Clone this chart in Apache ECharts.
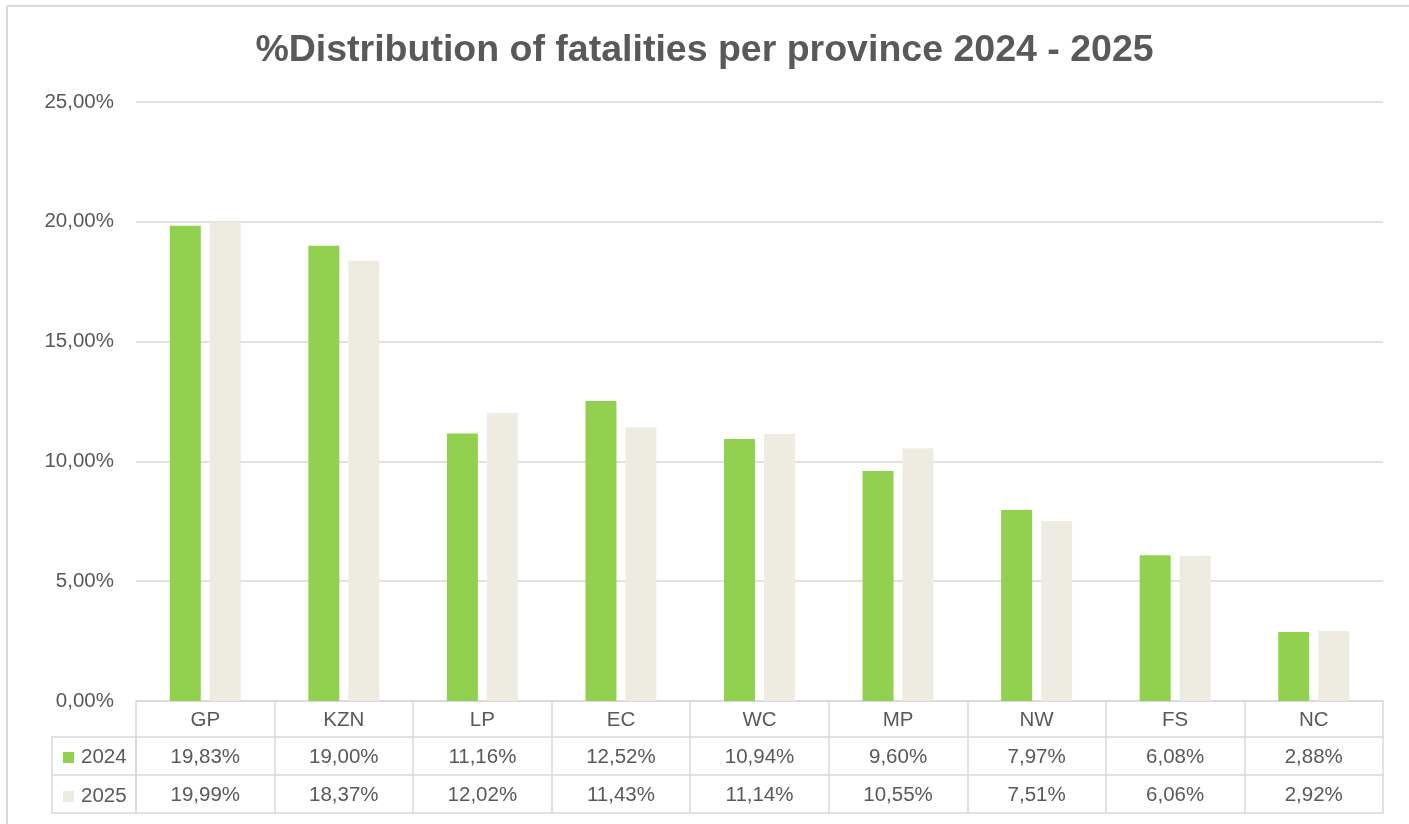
<!DOCTYPE html>
<html>
<head>
<meta charset="utf-8">
<script src="https://cdn.jsdelivr.net/npm/echarts@6/dist/echarts.min.js"></script>
<style>
  html, body { margin: 0; padding: 0; background: #ffffff; }
  #chart { width: 1409px; height: 824px; }
</style>
</head>
<body>
<div id="chart"></div>
<script>
// Provinces and share of fatalities (%) per year
const provinces = ['GP', 'KZN', 'LP', 'EC', 'WC', 'MP', 'NW', 'FS', 'NC'];
const share2024 = [19.83, 19.00, 11.16, 12.52, 10.94, 9.60, 7.97, 6.08, 2.88];
const share2025 = [19.99, 18.37, 12.02, 11.43, 11.14, 10.55, 7.51, 6.06, 2.92];
const seriesNames = ['2024', '2025'];

const GREEN = '#92D050';
const BEIGE = '#EEECE1';
const LINE = '#D9D9D9';
const TEXT = '#595959';
const FONT = 'Liberation Sans';
const FS = 20.5;

const pct = v => v.toFixed(2).replace('.', ',') + '%';

// Layout of plot area and the data table underneath it
const gridLeft = 136, gridRight = 26, gridTop = 102, gridBottom = 123;
const rowHead = 36, rowH = 38;
const legendColLeft = 52;

function tableAxis(offset, labelFn, showLabel) {
  return {
    type: 'category',
    data: provinces,
    position: 'bottom',
    offset: offset,
    axisLine: { show: true, lineStyle: { color: LINE, width: 1.5 } },
    axisTick: { show: false },
    axisLabel: {
      show: showLabel,
      margin: 10,
      color: TEXT,
      fontFamily: FONT,
      fontSize: FS,
      lineHeight: 20,
      interval: 0,
      formatter: labelFn
    },
    splitLine: { show: false }
  };
}

const chart = echarts.init(document.getElementById('chart'));
const chartH = 824;
const tableTop = chartH - gridBottom;

chart.setOption({
  backgroundColor: '#ffffff',
  animation: false,
  title: {
    text: '%Distribution of fatalities per province 2024 - 2025',
    left: 'center',
    top: 27,
    textStyle: { color: TEXT, fontFamily: FONT, fontWeight: 'bold', fontSize: 37.5 }
  },
  legend: {
    data: seriesNames,
    orient: 'vertical',
    left: 58,
    top: tableTop + rowHead + 5,
    icon: 'rect',
    itemWidth: 11,
    itemHeight: 11,
    itemGap: 18,
    selectedMode: false,
    textStyle: { color: TEXT, fontFamily: FONT, fontSize: FS, lineHeight: 20, padding: [0, 0, 0, 2] }
  },
  grid: { left: gridLeft, right: gridRight, top: gridTop, bottom: gridBottom, containLabel: false },
  xAxis: [
    {
      type: 'category',
      data: provinces,
      position: 'bottom',
      axisLine: { show: true, lineStyle: { color: LINE, width: 1.5 } },
      axisTick: { show: true, interval: 0, length: rowHead + 2 * rowH, lineStyle: { color: LINE, width: 1.5 } },
      axisLabel: { margin: 9, color: TEXT, fontFamily: FONT, fontSize: FS, lineHeight: 20, interval: 0 }
    },
    tableAxis(rowHead, (v, i) => pct(share2024[i]), true),
    tableAxis(rowHead + rowH, (v, i) => pct(share2025[i]), true),
    tableAxis(rowHead + 2 * rowH, () => '', false)
  ],
  yAxis: {
    type: 'value',
    min: 0,
    max: 25,
    interval: 5,
    axisLine: { show: false },
    axisTick: { show: false },
    splitLine: { lineStyle: { color: LINE, width: 1.5 } },
    axisLabel: { color: TEXT, fontFamily: FONT, fontSize: FS, margin: 22, formatter: v => pct(v) }
  },
  series: [
    {
      name: seriesNames[0],
      type: 'bar',
      data: share2024,
      barWidth: 31,
      barGap: '29%',
      itemStyle: { color: GREEN }
    },
    {
      name: seriesNames[1],
      type: 'bar',
      data: share2025,
      barWidth: 31,
      barGap: '29%',
      itemStyle: { color: BEIGE }
    }
  ],
  graphic: [
    // chart frame (top and left edges)
    { type: 'line', shape: { x1: 7, y1: 6, x2: 1409, y2: 6 }, style: { stroke: LINE, lineWidth: 2 }, silent: true },
    { type: 'line', shape: { x1: 7, y1: 6, x2: 7, y2: 824 }, style: { stroke: LINE, lineWidth: 2 }, silent: true },
    // legend column of the data table
    { type: 'rect', shape: { x: legendColLeft, y: tableTop + rowHead, width: gridLeft - legendColLeft, height: 2 * rowH }, style: { fill: 'none', stroke: LINE, lineWidth: 1.5 }, silent: true },
    { type: 'line', shape: { x1: legendColLeft, y1: tableTop + rowHead + rowH, x2: gridLeft, y2: tableTop + rowHead + rowH }, style: { stroke: LINE, lineWidth: 1.5 }, silent: true }
  ]
});
</script>
</body>
</html>
